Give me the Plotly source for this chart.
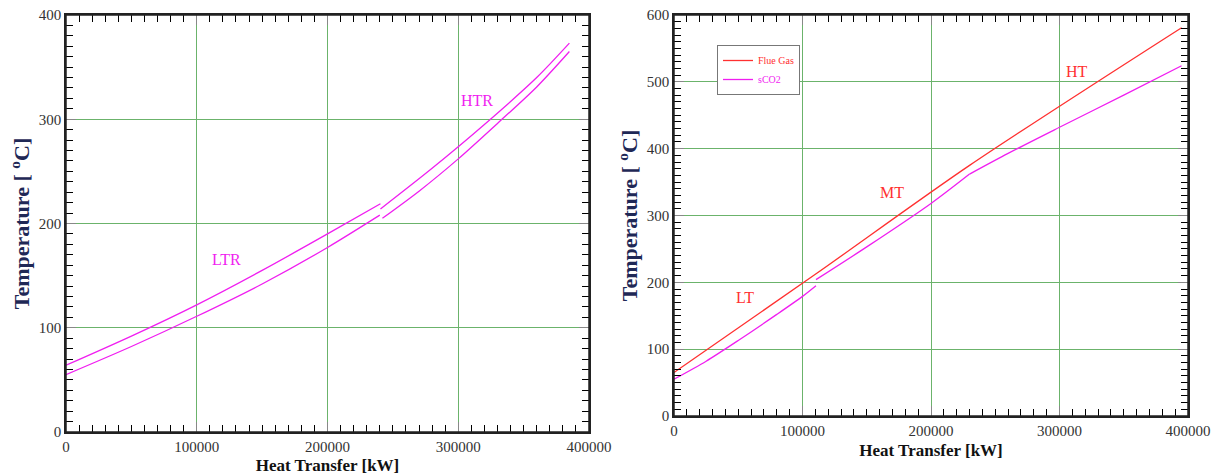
import plotly.graph_objects as go

# ---- Recuperators (left panel) ----
ltr_hot_q = [0, 50000, 100000, 150000, 200000, 240500]
ltr_hot_t = [64, 92, 122, 155, 190, 219]
ltr_cold_q = [0, 50000, 100000, 150000, 200000, 240000]
ltr_cold_t = [55, 82, 111, 142, 177, 208]

htr_hot_q = [240500, 280000, 320000, 360000, 385000]
htr_hot_t = [214, 253, 295, 340, 373]
htr_cold_q = [242000, 270000, 300000, 330000, 360000, 385000]
htr_cold_t = [205, 231, 262, 296, 331, 365]

# ---- Primary heater (right panel) ----
flue_q = [0, 110000, 230000, 395000]
flue_t = [65, 212, 375, 581]

lt_q = [0, 25000, 50000, 80000, 100000, 110500]
lt_t = [55, 82, 113, 152, 179, 195]
mt_q = [110500, 150000, 200000, 230000]
mt_t = [204, 253, 318, 362]
ht_q = [230000, 260000, 300000, 350000, 395000]
ht_t = [362, 393, 432, 480, 524]

MAGENTA = "#f01ef0"
RED = "#ff3030"
GRID = "#6bb36b"
SERIF = "Liberation Serif"

fig = go.Figure()

def add_line(q, t, color, xa, ya, name=None, show=False, group=None):
    fig.add_trace(go.Scatter(
        x=q, y=t, mode="lines", line=dict(color=color, width=1.3, shape="spline", smoothing=0.8),
        xaxis=xa, yaxis=ya, name=name, showlegend=show, legendgroup=group,
        hoverinfo="skip"))

for q, t in [(ltr_hot_q, ltr_hot_t), (ltr_cold_q, ltr_cold_t),
             (htr_hot_q, htr_hot_t), (htr_cold_q, htr_cold_t)]:
    add_line(q, t, MAGENTA, "x", "y")

add_line(flue_q, flue_t, RED, "x2", "y2",
         name="<span style='color:#ff3030'>Flue Gas</span>", show=True, group="fg")
add_line(lt_q, lt_t, MAGENTA, "x2", "y2",
         name="<span style='color:#f01ef0'>sCO2</span>", show=True, group="co2")
add_line(mt_q, mt_t, MAGENTA, "x2", "y2", group="co2")
add_line(ht_q, ht_t, MAGENTA, "x2", "y2", group="co2")

def xaxis_style(domain, anchor):
    return dict(
        domain=domain, anchor=anchor, range=[0, 400000], dtick=100000,
        tickformat="d", showgrid=True, gridcolor=GRID, gridwidth=1, automargin=False,
        zeroline=False, showline=True, linecolor="#222", linewidth=1.5, mirror="allticks",
        ticks="inside", ticklen=10, tickcolor="#888", tickwidth=1,
        minor=dict(dtick=10000, ticks="inside", ticklen=7, tickcolor="#000",
                   tickwidth=1.2, showgrid=False),
        tickfont=dict(family=SERIF, size=15, color="#333"),
        title=dict(text="<b>Heat Transfer [kW]</b>",
                   font=dict(family=SERIF, size=17, color="#111"), standoff=6),
    )

def yaxis_style(domain, anchor, top, minor):
    return dict(
        domain=domain, anchor=anchor, range=[0, top], dtick=100,
        showgrid=True, gridcolor=GRID, gridwidth=1, automargin=False,
        zeroline=False, showline=True, linecolor="#222", linewidth=1.5, mirror="allticks",
        ticks="inside", ticklen=10, tickcolor="#888", tickwidth=1,
        minor=dict(dtick=minor, ticks="inside", ticklen=7, tickcolor="#000",
                   tickwidth=1.2, showgrid=False),
        tickfont=dict(family=SERIF, size=15, color="#333"),
        title=dict(text="<b>Temperature [ <sup>o</sup>C]</b>",
                   font=dict(family=SERIF, size=22, color="#1f2856"), standoff=3),
    )

fig.update_layout(
    width=1216, height=475, autosize=False,
    margin=dict(l=0, r=0, t=0, b=0),
    paper_bgcolor="white", plot_bgcolor="white",
    xaxis=xaxis_style([66 / 1216, 589 / 1216], "y"),
    yaxis=yaxis_style([1 - 432 / 475, 1 - 15 / 475], "x", 400, 10),
    xaxis2=xaxis_style([674 / 1216, 1188 / 1216], "y2"),
    yaxis2=yaxis_style([1 - 416 / 475, 1 - 15 / 475], "x2", 600, 10),
    legend=dict(
        x=717 / 1216, y=1 - 45 / 475, xanchor="left", yanchor="top",
        bgcolor="white", bordercolor="#777", borderwidth=1,
        font=dict(family=SERIF, size=10), tracegroupgap=0,
        itemwidth=30,
    ),
    showlegend=True,
)

# plot frames drawn on all four sides
for xa, ya in [("x", "y"), ("x2", "y2")]:
    fig.add_shape(type="rect", xref=f"{xa} domain", yref=f"{ya} domain",
                  x0=0, x1=1, y0=0, y1=1, line=dict(color="#222", width=1.5),
                  fillcolor="rgba(0,0,0,0)", layer="above")

labels = [
    ("x", "y", 123000, 165, "LTR", MAGENTA),
    ("x", "y", 314000, 318, "HTR", MAGENTA),
    ("x2", "y2", 55000, 177, "LT", RED),
    ("x2", "y2", 170000, 334, "MT", RED),
    ("x2", "y2", 314000, 516, "HT", RED),
]
for xa, ya, x, y, text, color in labels:
    fig.add_annotation(x=x, y=y, xref=xa, yref=ya, text=text, showarrow=False,
                       font=dict(family=SERIF, size=16, color=color))

fig.write_html("out.html")
